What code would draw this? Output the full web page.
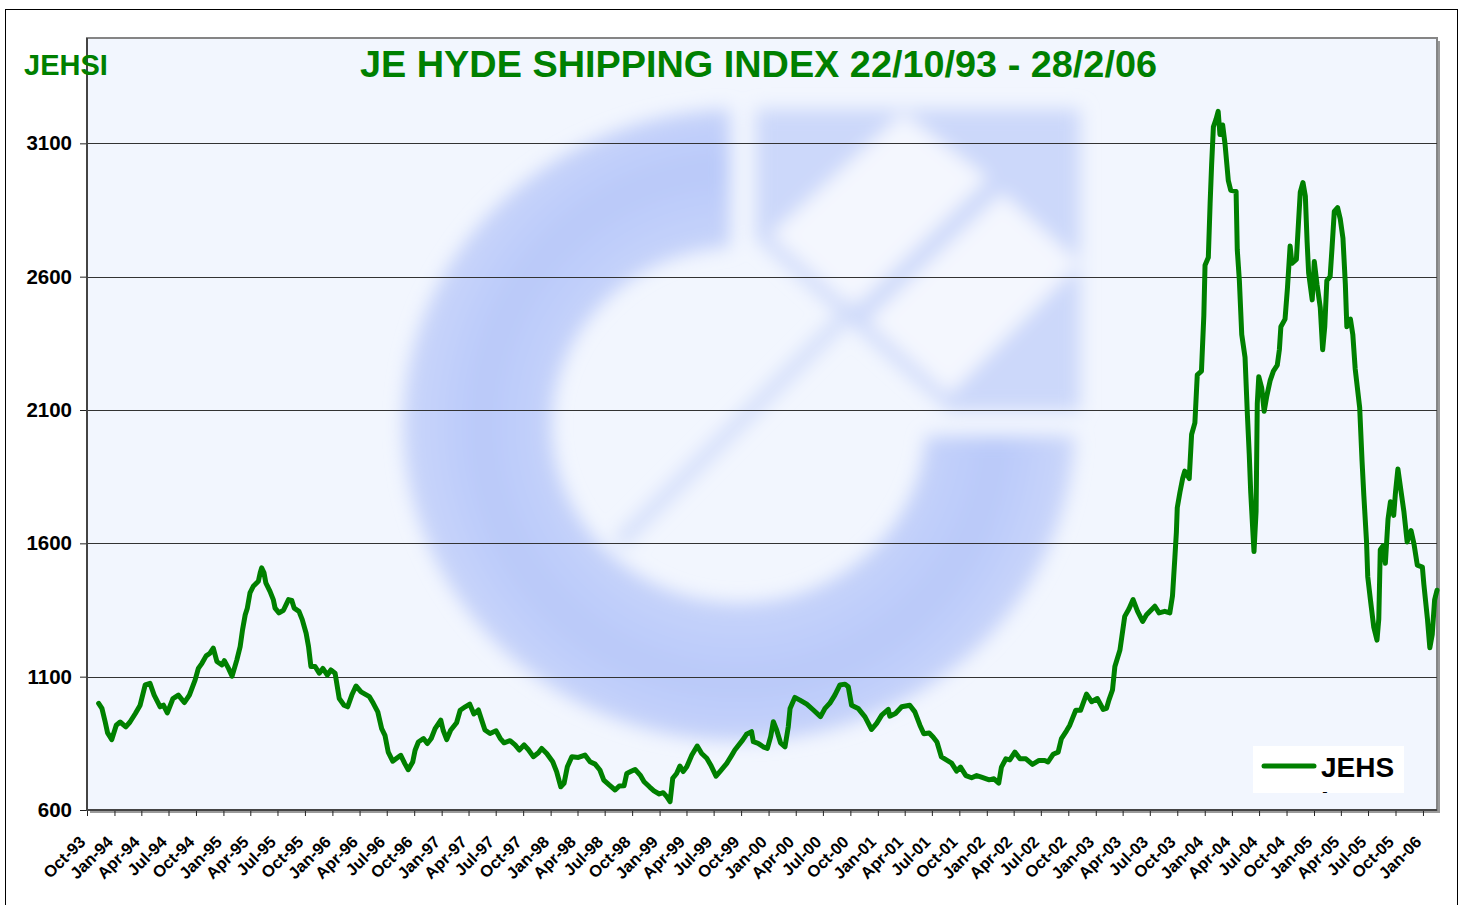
<!DOCTYPE html>
<html>
<head>
<meta charset="utf-8">
<script src="https://cdn.jsdelivr.net/npm/d3@7"></script>
<style>
  body { margin: 0; background: #fff; }
  svg { display: block; font-family: Arial, "Liberation Sans", sans-serif; }
</style>
</head>
<body>
<div id="svg-container"></div>
<script>
////////////////////////////////////////////////////////////////////
////////////////////////////  Data  ////////////////////////////////
const seriesName = "JEHS";
const chartTitle = "JE HYDE SHIPPING INDEX 22/10/93 - 28/2/06";
const cornerLabel = "JEHSI";
const yTicks = [600, 1100, 1600, 2100, 2600, 3100];

// dates (vertices of the line)
const dates = [
  "1993-11-09","1993-11-20","1993-12-01","1993-12-09","1993-12-23",
  "1994-01-07","1994-01-20","1994-02-08","1994-02-22","1994-03-12","1994-03-28","1994-04-14","1994-04-30",
  "1994-05-14","1994-06-03","1994-06-14","1994-06-27","1994-07-16","1994-08-03","1994-08-23","1994-09-09",
  "1994-09-28","1994-10-09","1994-10-21","1994-11-04","1994-11-17","1994-11-28","1994-12-10","1994-12-27",
  "1995-01-04","1995-01-18","1995-01-30","1995-02-15","1995-02-26","1995-03-06","1995-03-15","1995-03-22",
  "1995-03-31","1995-04-11","1995-04-28","1995-05-04","1995-05-09","1995-05-17","1995-05-23","1995-06-06",
  "1995-06-17","1995-06-23","1995-07-06","1995-07-21","1995-08-07","1995-08-18","1995-08-26","1995-09-11",
  "1995-09-22","1995-10-05","1995-10-13","1995-10-21","1995-11-04","1995-11-18","1995-11-30","1995-12-15",
  "1995-12-27",
  "1996-01-10","1996-01-24","1996-02-09","1996-02-21","1996-03-06","1996-03-20","1996-04-06","1996-05-04",
  "1996-05-17","1996-06-01","1996-06-14","1996-06-25","1996-07-06","1996-07-21","1996-08-01","1996-08-17",
  "1996-08-31","1996-09-11","1996-09-26","1996-10-04","1996-10-15","1996-11-01","1996-11-14","1996-11-27",
  "1996-12-10","1996-12-29",
  "1997-01-06","1997-01-18","1997-01-31","1997-02-20","1997-03-04","1997-03-21","1997-04-05","1997-04-19",
  "1997-05-04","1997-05-15","1997-05-26","1997-06-12","1997-07-02","1997-07-16","1997-07-29","1997-08-18",
  "1997-09-04","1997-09-18","1997-10-04","1997-10-18","1997-11-04","1997-11-21","1997-12-02","1997-12-19",
  "1998-01-08","1998-01-21","1998-02-04","1998-02-15","1998-02-26","1998-03-13","1998-04-04","1998-04-26",
  "1998-05-13","1998-05-30","1998-06-15","1998-06-28","1998-07-16","1998-08-05","1998-08-19","1998-09-04",
  "1998-09-13","1998-09-26","1998-10-11","1998-10-28","1998-11-10","1998-11-28","1998-12-13","1998-12-31",
  "1999-01-13","1999-01-25","1999-02-05","1999-02-14","1999-02-27","1999-03-10","1999-03-21","1999-04-02",
  "1999-04-19","1999-05-07","1999-05-22","1999-06-08","1999-06-21","1999-07-09","1999-07-22","1999-08-14",
  "1999-08-31","1999-09-10","1999-10-06","1999-10-19","1999-11-05","1999-11-11","1999-11-27","1999-12-14",
  "1999-12-28",
  "2000-01-08","2000-01-17","2000-01-28","2000-02-10","2000-02-25","2000-03-07","2000-03-13","2000-03-29",
  "2000-04-15","2000-05-08","2000-05-30","2000-06-23","2000-07-08","2000-07-24","2000-08-10","2000-08-27",
  "2000-09-13","2000-09-24","2000-10-05","2000-10-27","2000-11-19","2000-12-11","2000-12-28",
  "2001-01-14","2001-02-05","2001-02-10","2001-03-01","2001-03-22","2001-04-18","2001-05-05","2001-05-22",
  "2001-06-04","2001-06-22","2001-07-05","2001-07-18","2001-08-02","2001-08-17","2001-09-05","2001-09-22",
  "2001-10-05","2001-10-23","2001-11-11","2001-11-28","2001-12-14",
  "2002-01-09","2002-01-25","2002-02-10","2002-02-19","2002-03-06","2002-03-19","2002-04-05","2002-04-22",
  "2002-05-12","2002-06-03","2002-06-25","2002-07-14","2002-07-25","2002-08-11","2002-08-28","2002-09-08",
  "2002-09-25","2002-10-06","2002-10-17","2002-10-26","2002-11-11","2002-12-01","2002-12-18",
  "2003-01-06","2003-01-26","2003-02-06","2003-02-14","2003-02-26","2003-03-06","2003-03-23","2003-04-08",
  "2003-04-22","2003-05-06","2003-05-21","2003-06-07","2003-06-20","2003-07-18","2003-08-01","2003-08-20",
  "2003-09-06","2003-09-15","2003-09-23","2003-09-28","2003-10-01","2003-10-10","2003-10-19","2003-10-26",
  "2003-11-10","2003-11-18","2003-11-29","2003-12-07","2003-12-21","2003-12-29",
  "2004-01-02","2004-01-13","2004-01-19","2004-01-24","2004-01-30","2004-02-08","2004-02-15","2004-02-21",
  "2004-03-01","2004-03-09","2004-03-20","2004-03-28","2004-04-15","2004-04-19","2004-04-26","2004-05-04",
  "2004-05-15","2004-05-23","2004-05-29","2004-06-03","2004-06-10","2004-06-14","2004-06-21","2004-06-25",
  "2004-06-30","2004-07-10","2004-07-18","2004-07-27","2004-08-07","2004-08-18","2004-08-31","2004-09-07",
  "2004-09-12","2004-09-26","2004-10-04","2004-10-13","2004-10-19","2004-11-03","2004-11-10","2004-11-16",
  "2004-11-25","2004-12-03","2004-12-09","2004-12-14","2004-12-26",
  "2005-01-02","2005-01-11","2005-01-22","2005-01-30","2005-02-06","2005-02-13","2005-02-24","2005-03-02",
  "2005-03-10","2005-03-21","2005-03-30","2005-04-08","2005-04-16","2005-04-21","2005-05-03","2005-05-11",
  "2005-05-19","2005-06-03","2005-06-11","2005-06-17","2005-06-26","2005-06-30","2005-07-09","2005-07-20",
  "2005-07-31","2005-08-06","2005-08-11","2005-08-20","2005-08-28","2005-09-06","2005-09-14","2005-09-25",
  "2005-10-01","2005-10-09","2005-10-18","2005-10-29","2005-11-09","2005-11-22","2005-12-02","2005-12-13",
  "2005-12-30",
  "2006-01-04","2006-01-16","2006-01-24","2006-02-01","2006-02-09","2006-02-17"
];

const jehs = [
  1000, 981, 930, 889, 864,
  918, 930, 912, 930, 962, 993, 1069, 1075,
  1031, 987, 993, 964, 1018, 1031, 1003, 1031,
  1087, 1131, 1150, 1178, 1188, 1207, 1157, 1144,
  1160, 1131, 1102, 1163, 1213, 1276, 1332, 1357,
  1414, 1439, 1458, 1489, 1508, 1489, 1452, 1420,
  1389, 1357, 1339, 1349, 1389, 1386, 1357, 1345,
  1314, 1263, 1213, 1138, 1138, 1113, 1131, 1106,
  1125,
  1113, 1018, 993, 987, 1031, 1065, 1043, 1025,
  1000, 968, 905, 880, 817, 783, 792, 805,
  773, 751, 780, 824, 855, 868, 849, 868,
  905, 937,
  899, 864, 899, 927, 974, 987, 997, 960,
  975, 937, 900, 887, 897, 869, 852, 860,
  844, 825, 844, 827, 800, 815, 831, 812,
  781, 744, 687, 700, 762, 800, 797, 806,
  781, 772, 750, 712, 694, 675, 690, 691,
  737, 744, 752, 731, 706, 687, 672, 660,
  665, 650, 631, 719, 737, 765, 744, 762,
  806, 840, 812, 794, 769, 727, 744, 775,
  806, 825, 862, 884, 894, 856, 850, 837,
  831,
  875, 931, 900, 852, 837, 912, 981, 1022,
  1012, 997, 975, 950, 981, 1000, 1031, 1069,
  1072, 1062, 993, 981, 949, 902, 925,
  956, 977, 952, 962, 987, 993, 968, 918,
  886, 889, 874, 855, 799, 789, 776, 746,
  761, 729, 721, 729, 723,
  713, 717, 701, 761, 792, 788, 817, 792,
  792, 771, 786, 786, 780, 809, 817, 868,
  897, 918, 949, 974, 974, 1035, 1006,
  1018, 977, 981, 1012, 1050, 1138, 1200, 1326,
  1354, 1389, 1345, 1307, 1332, 1364, 1339, 1345,
  1339, 1403, 1547, 1641, 1734, 1792, 1843, 1871,
  1843, 2008, 2052, 2232, 2246, 2455,
  2643, 2672, 2874, 3018, 3162, 3191, 3220, 3133,
  3169, 3097, 2960, 2924, 2920, 2701, 2585, 2383,
  2297, 2080, 1936, 1792, 1648, 1569, 1720, 2124,
  2225, 2182, 2095, 2153, 2210, 2246, 2268, 2326,
  2412, 2441, 2556, 2715, 2650, 2665, 2802, 2917,
  2953, 2902, 2729, 2614, 2513,
  2657, 2571, 2484, 2326, 2412, 2585, 2600, 2701,
  2845, 2859, 2816, 2744, 2571, 2412, 2441, 2383,
  2254, 2109, 1907, 1778, 1605, 1475, 1388, 1287,
  1237, 1316, 1576, 1590, 1525, 1691, 1756, 1705,
  1792, 1879, 1807, 1720, 1605, 1648, 1597, 1518,
  1511,
  1446, 1316, 1208, 1258, 1388, 1424
];

////////////////////////////////////////////////////////////////////
////////////////////////////  Init  ///////////////////////////////
const width = 1463;
const height = 905;
const plot = { left: 87, top: 38, right: 1437, bottom: 810 };
const green = "#008000";
const plotBg = "#f2f6fe";

const svg = d3
  .select("#svg-container")
  .append("svg")
  .attr("width", width)
  .attr("height", height);

const parseDate = d3.timeParse("%Y-%m-%d");
const formatXaxis = d3.timeFormat("%b-%y");

const data = dates.map((d, i) => ({ date: parseDate(d), value: jehs[i] }));

// scales
const xScale = d3
  .scaleTime()
  .domain([parseDate("1993-10-01"), parseDate("2006-02-17")])
  .range([plot.left, plot.right]);
const yScale = d3
  .scaleLinear()
  .domain([600, 3495])
  .range([plot.bottom, plot.top]);

const xTicks = d3.timeMonth.every(3).range(parseDate("1993-10-01"), parseDate("2006-02-01"));

// outer frame
svg
  .append("rect")
  .attr("x", 5.5)
  .attr("y", 9.5)
  .attr("width", 1452)
  .attr("height", 910)
  .attr("fill", "#fff")
  .attr("stroke", "#000")
  .attr("stroke-width", 1);

// plot area with shadow
svg
  .append("rect")
  .attr("x", plot.left + 3)
  .attr("y", plot.top + 3)
  .attr("width", plot.right - plot.left)
  .attr("height", plot.bottom - plot.top)
  .attr("fill", "#9a9a9a");
svg
  .append("rect")
  .attr("x", plot.left)
  .attr("y", plot.top)
  .attr("width", plot.right - plot.left)
  .attr("height", plot.bottom - plot.top)
  .attr("fill", plotBg)
  .attr("stroke", "#858585")
  .attr("stroke-width", 2);

////////////////////////////////////////////////////////////////////
////////////////////////////  Watermark  ///////////////////////////
const defs = svg.append("defs");
defs
  .append("filter")
  .attr("id", "soft")
  .attr("x", "-10%")
  .attr("y", "-10%")
  .attr("width", "120%")
  .attr("height", "120%")
  .append("feGaussianBlur")
  .attr("stdDeviation", 9);
defs
  .append("clipPath")
  .attr("id", "plot-clip")
  .append("rect")
  .attr("x", plot.left + 1)
  .attr("y", plot.top + 1)
  .attr("width", plot.right - plot.left - 2)
  .attr("height", plot.bottom - plot.top - 2);
defs
  .append("clipPath")
  .attr("id", "c-open")
  .append("polygon")
  .attr("points", "0,0 730,0 730,436 1463,436 1463,905 0,905");

// ring shading: darker in the middle of the band
const ringGrad = defs
  .append("radialGradient")
  .attr("id", "ring-grad")
  .attr("gradientUnits", "userSpaceOnUse")
  .attr("cx", 739)
  .attr("cy", 425)
  .attr("r", 330);
ringGrad.append("stop").attr("offset", "0.55").attr("stop-color", "#c6d3fa");
ringGrad.append("stop").attr("offset", "0.78").attr("stop-color", "#b9c9f9");
ringGrad.append("stop").attr("offset", "1").attr("stop-color", "#c9d5fa");

const ellipse = (cx, cy, rx, ry) =>
  `M${cx - rx},${cy}A${rx},${ry} 0 1 0 ${cx + rx},${cy}A${rx},${ry} 0 1 0 ${cx - rx},${cy}Z`;

const mark = svg.append("g").attr("clip-path", "url(#plot-clip)")
  .append("g").attr("filter", "url(#soft)");

mark
  .append("path")
  .attr("d", ellipse(739, 425, 336, 316) + ellipse(739, 425, 187, 178))
  .attr("fill-rule", "evenodd")
  .attr("fill", "url(#ring-grad)")
  .attr("clip-path", "url(#c-open)");

mark
  .append("polygon")
  .attr("points", "756,109 1080,109 1080,411 949,411 756,239")
  .attr("fill", "#ccd8fa");

mark
  .append("polygon")
  .attr("points", "770,235 903,113 988,178 853,309")
  .attr("fill", "#f4f7fe");
mark
  .append("polygon")
  .attr("points", "867,321 1002,193 1080,263 949,395")
  .attr("fill", "#f4f7fe");

mark
  .append("line")
  .attr("x1", 619)
  .attr("y1", 543)
  .attr("x2", 858)
  .attr("y2", 304)
  .attr("stroke", "#d2ddfa")
  .attr("stroke-width", 14);

////////////////////////////////////////////////////////////////////
////////////////////////////  Axes  ////////////////////////////////
// gridlines
svg
  .append("g")
  .selectAll("line")
  .data(yTicks.filter((d) => d > 600))
  .join("line")
  .attr("x1", plot.left)
  .attr("x2", plot.right)
  .attr("y1", (d) => Math.round(yScale(d)) + 0.5)
  .attr("y2", (d) => Math.round(yScale(d)) + 0.5)
  .attr("stroke", "#333")
  .attr("stroke-width", 1);

const yAxis = d3
  .axisLeft(yScale)
  .tickValues(yTicks)
  .tickFormat(d3.format("d"))
  .tickSize(7)
  .tickSizeOuter(0)
  .tickPadding(8);

const yG = svg
  .append("g")
  .attr("class", "y-axis")
  .attr("transform", `translate(${plot.left}, 0)`)
  .call(yAxis);
yG.select(".domain").remove();
yG.selectAll("line").attr("stroke", "#222");
yG.selectAll("text")
  .attr("font-size", 20.5)
  .attr("font-weight", "bold")
  .attr("fill", "#000");

const xAxis = d3
  .axisBottom(xScale)
  .tickValues(xTicks)
  .tickSize(6)
  .tickSizeOuter(0)
  .tickFormat((d) => formatXaxis(d));

const xG = svg
  .append("g")
  .attr("class", "x-axis")
  .attr("transform", `translate(0, ${plot.bottom})`)
  .call(xAxis);
xG.select(".domain").remove();
xG.selectAll("line").attr("stroke", "#222");
xG.selectAll("text")
  .attr("y", 0)
  .attr("dy", 0)
  .attr("text-anchor", "end")
  .attr("transform", "translate(-1, 33) rotate(-45)")
  .attr("font-size", 16.5)
  .attr("font-weight", "bold")
  .attr("fill", "#000");

// axis lines
svg
  .append("path")
  .attr("d", `M${plot.left},${plot.top}V${plot.bottom}H${plot.right}`)
  .attr("fill", "none")
  .attr("stroke", "#444")
  .attr("stroke-width", 2);

////////////////////////////////////////////////////////////////////
////////////////////////////  Line  ////////////////////////////////
const line = d3
  .line()
  .x((d) => xScale(d.date))
  .y((d) => yScale(d.value));

svg
  .append("path")
  .datum(data)
  .attr("d", line)
  .attr("fill", "none")
  .attr("stroke", green)
  .attr("stroke-width", 5)
  .attr("stroke-linejoin", "round")
  .attr("stroke-linecap", "round");

////////////////////////////////////////////////////////////////////
////////////////////////////  Titles & legend  /////////////////////
svg
  .append("text")
  .attr("x", 360)
  .attr("y", 77)
  .attr("textLength", 797)
  .attr("lengthAdjust", "spacingAndGlyphs")
  .attr("font-size", 36)
  .attr("font-weight", "bold")
  .attr("fill", green)
  .text(chartTitle);

svg
  .append("text")
  .attr("x", 24)
  .attr("y", 75)
  .attr("font-size", 29)
  .attr("font-weight", "bold")
  .attr("fill", green)
  .text(cornerLabel);

defs
  .append("clipPath")
  .attr("id", "legend-clip")
  .append("rect")
  .attr("x", 1253)
  .attr("y", 746)
  .attr("width", 151)
  .attr("height", 47);

const legend = svg.append("g").attr("clip-path", "url(#legend-clip)");
legend
  .append("rect")
  .attr("x", 1253)
  .attr("y", 746)
  .attr("width", 151)
  .attr("height", 47)
  .attr("fill", "#fff");
legend
  .append("line")
  .attr("x1", 1264)
  .attr("x2", 1314)
  .attr("y1", 766)
  .attr("y2", 766)
  .attr("stroke", green)
  .attr("stroke-width", 5)
  .attr("stroke-linecap", "round");
legend
  .append("text")
  .attr("x", 1321)
  .attr("y", 777)
  .attr("font-size", 28)
  .attr("font-weight", "bold")
  .attr("fill", "#000")
  .text(seriesName);
// wrapped last letter of the legend entry, cut off by the box
legend
  .append("text")
  .attr("x", 1321)
  .attr("y", 811)
  .attr("font-size", 28)
  .attr("font-weight", "bold")
  .attr("fill", "#000")
  .text("I");
</script>
</body>
</html>
